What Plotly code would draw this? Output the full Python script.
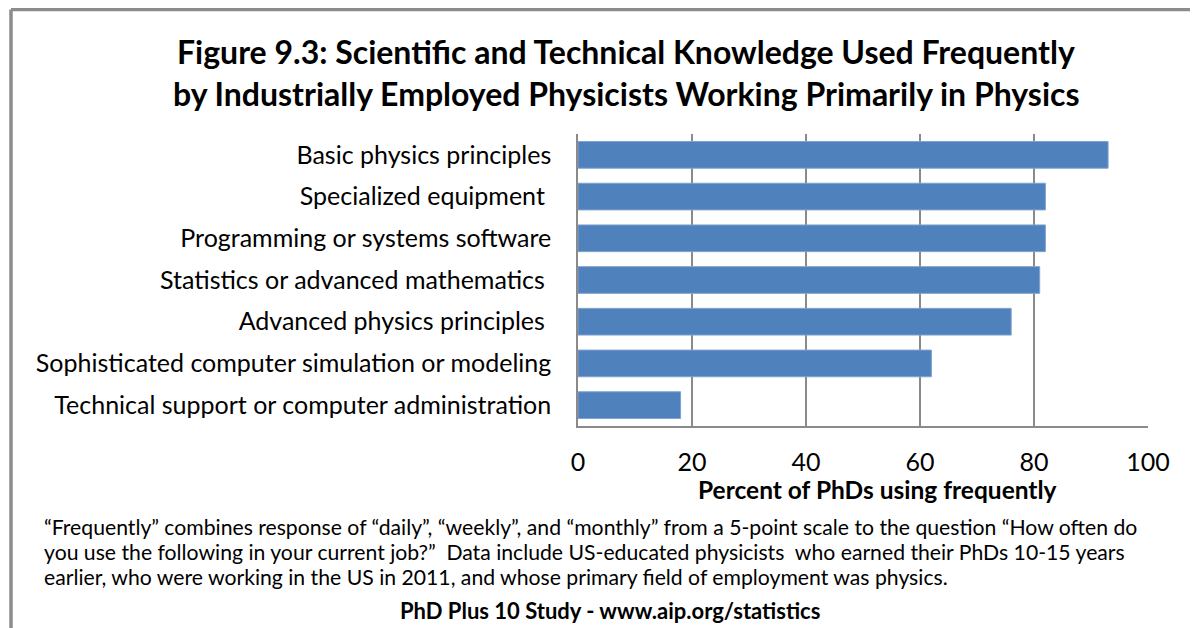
import plotly.graph_objects as go

categories = [
    "Basic physics principles",
    "Specialized equipment ",
    "Programming or systems software",
    "Statistics or advanced mathematics ",
    "Advanced physics principles ",
    "Sophisticated computer simulation or modeling",
    "Technical support or computer administration",
]
values = [93, 82, 82, 81, 76, 62, 18]
x_ticks = [0, 20, 40, 60, 80, 100]

title_lines = [
    "Figure 9.3: Scientific and Technical Knowledge Used Frequently",
    "by Industrially Employed Physicists Working Primarily in Physics",
]
x_title = "Percent of PhDs using frequently"
note_lines = [
    "“Frequently” combines response of “daily”, “weekly”, and “monthly” from a 5-point scale to the question “How often do",
    "you use the following in your current job?”  Data include US-educated physicists  who earned their PhDs 10-15 years",
    "earlier, who were working in the US in 2011, and whose primary field of employment was physics.",
]
source = "PhD Plus 10 Study - www.aip.org/statistics"

# page has an 8px body margin: figure coordinates = page coordinates - 8
OFF = 8
W, H = 1198 - OFF, 628 - OFF
L, R, T, B = 578 - OFF, 1148 - OFF, 134 - OFF, 426 - OFF
FONT = "Lato, 'Open Sans', sans-serif"
GRID = "#8a8a8a"


def px(x):
    """page x -> paper fraction"""
    return (x - OFF - L) / (R - L)


def py(y):
    """page y -> paper fraction"""
    return (B - (y - OFF)) / (B - T)


def nb(s):
    return s.replace("  ", "\u00a0\u00a0").rstrip() + ("\u00a0" if s.endswith(" ") else "")


fig = go.Figure(
    go.Bar(
        x=values,
        y=categories,
        orientation="h",
        marker=dict(color="#4F81BD", line=dict(color="#7fa3cf", width=1)),
        width=0.64,
    )
)

fig.update_layout(
    width=W,
    height=H,
    margin=dict(l=L, r=W - R, t=T, b=H - B, pad=0),
    paper_bgcolor="white",
    plot_bgcolor="white",
    showlegend=False,
    font=dict(family=FONT, color="black"),
)

fig.update_xaxes(
    range=[0, 100],
    tickvals=x_ticks,
    showgrid=True,
    gridcolor=GRID,
    gridwidth=1.5,
    showline=True,
    linecolor=GRID,
    linewidth=1.5,
    zeroline=False,
    ticks="",
    ticklabelstandoff=13,
    tickfont=dict(size=25, family=FONT, color="black"),
    fixedrange=True,
)
fig.update_yaxes(
    categoryorder="array",
    categoryarray=categories[::-1],
    tickvals=categories,
    ticktext=[nb(c) for c in categories],
    showline=True,
    linecolor=GRID,
    linewidth=1.5,
    showgrid=False,
    ticks="",
    ticklabelstandoff=20,
    tickfont=dict(size=25, family=FONT, color="black"),
    fixedrange=True,
)

ann = []
title_y = [51, 94]
for line, y in zip(title_lines, title_y):
    ann.append(dict(text="<b>%s</b>" % line, x=px(626), y=py(y), xref="paper", yref="paper",
                    xanchor="center", yanchor="middle", showarrow=False,
                    font=dict(size=32, family=FONT, color="black")))
ann.append(dict(text="<b>%s</b>" % x_title, x=px(877), y=py(489), xref="paper", yref="paper",
                xanchor="center", yanchor="middle", showarrow=False,
                font=dict(size=24.5, family=FONT, color="black")))
for i, line in enumerate(note_lines):
    ann.append(dict(text=nb(line), x=px(42), y=py(527 + 25 * i), xref="paper", yref="paper",
                    xanchor="left", yanchor="middle", showarrow=False,
                    font=dict(size=21.2, family=FONT, color="black")))
ann.append(dict(text="<b>%s</b>" % source, x=px(610), y=py(610), xref="paper", yref="paper",
                xanchor="center", yanchor="middle", showarrow=False,
                font=dict(size=22, family=FONT, color="black")))
fig.update_layout(annotations=ann)

# outer frame (left and top edges)
fig.update_layout(shapes=[
    dict(type="line", xref="paper", yref="paper", x0=px(11), x1=px(1210), y0=py(9.5), y1=py(9.5),
         line=dict(color="#8c8c8c", width=3.5)),
    dict(type="line", xref="paper", yref="paper", x0=px(11), x1=px(11), y0=py(9.5), y1=py(640),
         line=dict(color="#8c8c8c", width=3.5)),
])

fig.write_html("out.html")
